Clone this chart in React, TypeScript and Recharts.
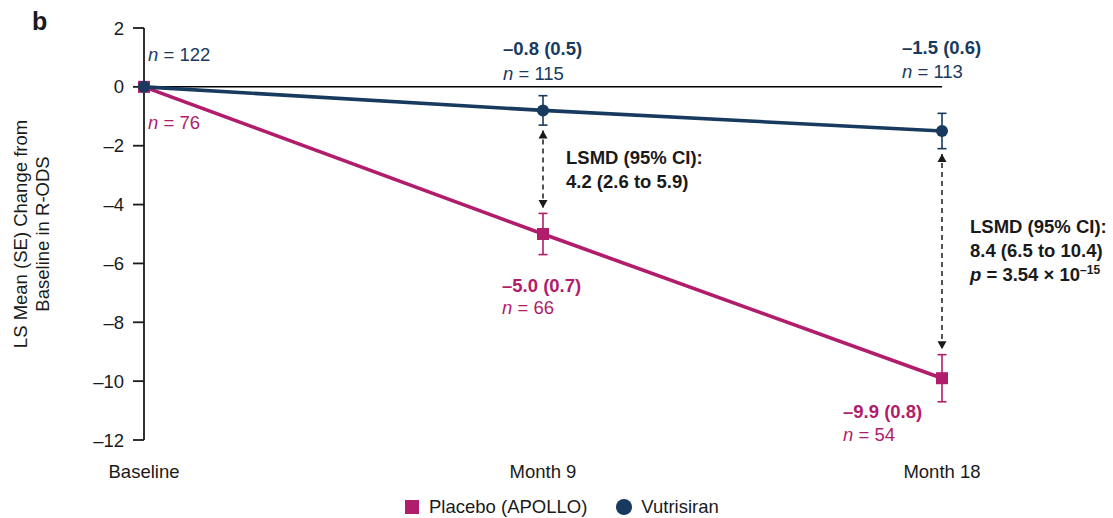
import React from "react";
import {
  LineChart,
  Line,
  XAxis,
  YAxis,
  ReferenceLine,
  ReferenceDot,
  ErrorBar,
  Legend,
} from "recharts";

const NAVY = "#173a5e";
const MAGENTA = "#b11c6b";
const INK = "#1a1a1a";
const FONT = "'Liberation Sans', Arial, sans-serif";
const FS = 18.5;

const categories = ["Baseline", "Month 9", "Month 18"];
const placeboMean = [0, -5.0, -9.9];
const placeboSE = [0, 0.7, 0.8];
const placeboN = [76, 66, 54];
const vutrisiranMean = [0, -0.8, -1.5];
const vutrisiranSE = [0, 0.5, 0.6];
const vutrisiranN = [122, 115, 113];
const yTicks = [2, 0, -2, -4, -6, -8, -10, -12];

// LS mean difference (vutrisiran vs placebo) at the follow-up visits
const lsmdVisit = [1, 2];
const lsmd = [4.2, 8.4];
const lsmdLow = [2.6, 6.5];
const lsmdHigh = [5.9, 10.4];
const pMantissa = [null, 3.54];
const pExponent = [null, -15];

const data = categories.map((name, i) => ({
  name,
  placebo: placeboMean[i],
  placeboSE: placeboSE[i],
  vutrisiran: vutrisiranMean[i],
  vutrisiranSE: vutrisiranSE[i],
}));

// label placement per point (pixels)
const vutPlace = [
  { dx: 4, dyV: null, dyN: -26 },
  { dx: -40, dyV: -31.5, dyN: -7 },
  { dx: -40, dyV: -33, dyN: -8.5 },
];
const plaPlace = [
  { dx: 4, dyV: null, dyN: 42.5 },
  { dx: -41, dyV: 57.5, dyN: 80 },
  { dx: -99, dyV: 39.5, dyN: 62.5 },
];
const lsmdPlace = [
  { dx: 23, dy: -8.5 },
  { dx: 28, dy: -22 },
];
const GAP = 0.18;

const fmt = (v: number) => (v < 0 ? "\u2013" : "") + Math.abs(v).toFixed(1);

const nText = (n: number, x: number, y: number, color: string) => (
  <text x={x} y={y} fill={color} fontSize={FS} fontFamily={FONT}>
    <tspan fontStyle="italic">n</tspan> = {n}
  </text>
);

const makeLabel = (
  mean: number[],
  se: number[],
  ns: number[],
  place: any[],
  color: string,
  i: number
) => (p: any) => {
  const pl = place[i];
  return (
    <g>
      {pl.dyV != null && (
        <text
          x={p.cx + pl.dx}
          y={p.cy + pl.dyV}
          fill={color}
          fontSize={FS}
          fontWeight={700}
          fontFamily={FONT}
        >
          {`${fmt(mean[i])} (${se[i].toFixed(1)})`}
        </text>
      )}
      {nText(ns[i], p.cx + pl.dx, p.cy + pl.dyN, color)}
    </g>
  );
};

const SquareDot = (p: any) =>
  p.cx == null ? null : (
    <rect key={`sq-${p.index}`} x={p.cx - 6} y={p.cy - 6} width={12} height={12} fill={MAGENTA} />
  );
const CircleDot = (p: any) =>
  p.cx == null ? null : <circle key={`ci-${p.index}`} cx={p.cx} cy={p.cy} r={6} fill={NAVY} />;

const ArrowUp = (p: any) => (
  <polygon points={`${p.cx},${p.cy} ${p.cx - 4.5},${p.cy + 8} ${p.cx + 4.5},${p.cy + 8}`} fill={INK} />
);
const ArrowDown = (p: any) => (
  <polygon points={`${p.cx},${p.cy} ${p.cx - 4.5},${p.cy - 8} ${p.cx + 4.5},${p.cy - 8}`} fill={INK} />
);

const lsmdLabel = (k: number) => (p: any) => {
  const pl = lsmdPlace[k];
  const x = p.cx + pl.dx;
  const y = p.cy + pl.dy;
  return (
    <text x={x} y={y} fill={INK} fontSize={FS} fontWeight={700} fontFamily={FONT}>
      <tspan x={x}>LSMD (95% CI):</tspan>
      <tspan x={x} dy={24}>{`${lsmd[k]} (${lsmdLow[k]} to ${lsmdHigh[k]})`}</tspan>
      {pMantissa[k] != null && (
        <>
          <tspan x={x} dy={24} fontStyle="italic">p</tspan>
          <tspan>{` = ${pMantissa[k]} \u00d7 10`}</tspan>
          <tspan dy={-7} fontSize={12}>{`\u2013${Math.abs(pExponent[k] as number)}`}</tspan>
        </>
      )}
    </text>
  );
};

const YLabel = ({ viewBox }: any) => {
  const cy = viewBox.y + viewBox.height / 2;
  const common = { textAnchor: "middle" as const, fill: INK, fontSize: FS, fontFamily: FONT };
  return (
    <g>
      <text transform={`translate(27,${cy}) rotate(-90)`} {...common}>
        LS Mean (SE) Change from
      </text>
      <text transform={`translate(49,${cy}) rotate(-90)`} {...common}>
        Baseline in R-ODS
      </text>
    </g>
  );
};

const LegendContent = ({ payload }: any) => (
  <div
    style={{
      display: "flex",
      alignItems: "center",
      paddingLeft: 405,
      fontFamily: FONT,
      fontSize: FS,
      color: INK,
      lineHeight: "22px",
    }}
  >
    {(payload || []).map((e: any) => (
      <div key={e.value} style={{ display: "flex", alignItems: "center", marginRight: 29 }}>
        {e.type === "square" ? (
          <span style={{ width: 14, height: 14, background: e.color, marginRight: 10 }} />
        ) : (
          <span style={{ width: 16, height: 16, borderRadius: 8, background: e.color, marginRight: 9 }} />
        )}
        <span>{e.value}</span>
      </div>
    ))}
  </div>
);

export default function App() {
  return (
    <div style={{ position: "absolute", left: 0, top: 0, width: 1113, height: 518, background: "#fff" }}>
      <div
        style={{
          position: "absolute",
          left: 32,
          top: 9,
          fontFamily: FONT,
          fontWeight: 700,
          fontSize: 25,
          lineHeight: "25px",
          color: INK,
        }}
      >
        b
      </div>
      <LineChart
        width={1113}
        height={518}
        data={data}
        margin={{ top: 28, right: 171, bottom: 0, left: 0 }}
      >
        <XAxis
          dataKey="name"
          scale="point"
          padding={{ left: 0, right: 0 }}
          axisLine={false}
          tickLine={false}
          tickSize={6}
          tickMargin={19}
          height={78}
          interval={0}
          tick={{ fill: INK, fontSize: FS, fontFamily: FONT }}
        />
        <YAxis
          type="number"
          domain={[-12, 2]}
          ticks={yTicks}
          width={144}
          tickSize={11}
          tickMargin={9}
          axisLine={{ stroke: INK, strokeWidth: 1.8 }}
          tickLine={{ stroke: INK, strokeWidth: 1.8 }}
          tick={{ fill: INK, fontSize: FS, fontFamily: FONT }}
          tickFormatter={(v: number) => (v < 0 ? "\u2013" + Math.abs(v) : String(v))}
          label={{ content: <YLabel /> }}
        />
        <ReferenceLine y={0} stroke="#000" strokeWidth={1.5} />
        {lsmdVisit.map((vi, k) => (
          <ReferenceLine
            key={`seg-${k}`}
            segment={[
              { x: categories[vi], y: vutrisiranMean[vi] - vutrisiranSE[vi] - GAP },
              { x: categories[vi], y: placeboMean[vi] + placeboSE[vi] + GAP },
            ]}
            stroke={INK}
            strokeWidth={1.5}
            strokeDasharray="5 4"
          />
        ))}
        {lsmdVisit.map((vi, k) => (
          <ReferenceDot
            key={`up-${k}`}
            x={categories[vi]}
            y={vutrisiranMean[vi] - vutrisiranSE[vi] - GAP}
            r={0}
            shape={ArrowUp}
          />
        ))}
        {lsmdVisit.map((vi, k) => (
          <ReferenceDot
            key={`dn-${k}`}
            x={categories[vi]}
            y={placeboMean[vi] + placeboSE[vi] + GAP}
            r={0}
            shape={ArrowDown}
          />
        ))}
        {lsmdVisit.map((vi, k) => (
          <ReferenceDot
            key={`lsmd-${k}`}
            x={categories[vi]}
            y={(vutrisiranMean[vi] + placeboMean[vi]) / 2}
            r={0}
            shape={lsmdLabel(k)}
          />
        ))}
        <Line
          dataKey="placebo"
          name="Placebo (APOLLO)"
          stroke={MAGENTA}
          strokeWidth={3.6}
          dot={SquareDot}
          activeDot={false}
          legendType="square"
          isAnimationActive={false}
        >
          <ErrorBar dataKey="placeboSE" width={4.5} strokeWidth={1.6} stroke={MAGENTA} isAnimationActive={false} />
        </Line>
        <Line
          dataKey="vutrisiran"
          name="Vutrisiran"
          stroke={NAVY}
          strokeWidth={3.6}
          dot={CircleDot}
          activeDot={false}
          legendType="circle"
          isAnimationActive={false}
        >
          <ErrorBar dataKey="vutrisiranSE" width={4.5} strokeWidth={1.6} stroke={NAVY} isAnimationActive={false} />
        </Line>
        {categories.map((c, i) => (
          <ReferenceDot
            key={`vl-${i}`}
            x={c}
            y={0}
            r={0}
            shape={makeLabel(vutrisiranMean, vutrisiranSE, vutrisiranN, vutPlace, NAVY, i)}
          />
        ))}
        {categories.map((c, i) => (
          <ReferenceDot
            key={`pl-${i}`}
            x={c}
            y={placeboMean[i]}
            r={0}
            shape={makeLabel(placeboMean, placeboSE, placeboN, plaPlace, MAGENTA, i)}
          />
        ))}
        <Legend
          layout="horizontal"
          verticalAlign="middle"
          align="center"
          content={<LegendContent />}
          wrapperStyle={{ top: 496, left: 0, width: 1113 }}
        />
      </LineChart>
    </div>
  );
}
